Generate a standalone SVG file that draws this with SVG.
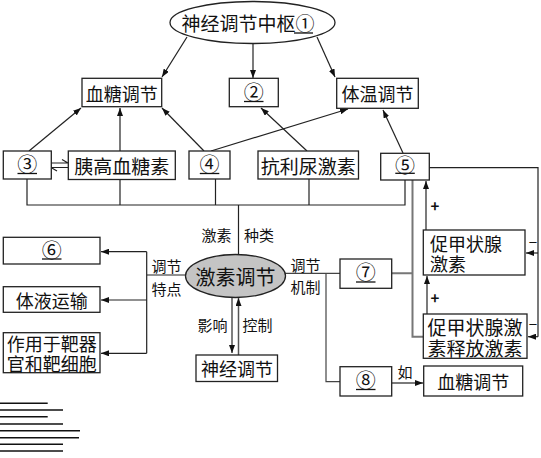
<svg xmlns="http://www.w3.org/2000/svg" width="541" height="458" viewBox="0 0 541 458">
<style>
.bx{fill:#fff;stroke:#222;stroke-width:1.3}
.t{font-family:"Noto Sans CJK SC","Noto Sans",sans-serif;fill:#111;text-anchor:middle;dominant-baseline:central}
.b18{font-size:18px}
.b19{font-size:19px}
.c{font-size:20px}
.l{font-size:15px}
.ln{fill:none;stroke:#222;stroke-width:1.2}
.gl{fill:none;stroke:#777;stroke-width:2}
.ul{stroke:#111;stroke-width:1.3}
.deco{stroke:#111;stroke-width:1.4}
</style>
<defs>
<marker id="ah" markerWidth="8" markerHeight="6" refX="8" refY="3" orient="auto" markerUnits="userSpaceOnUse">
<path d="M0,0 L8,3 L0,6 Z" fill="#111"/>
</marker>
</defs>

<g id="connectors">
<path class="ln" d="M187,37 L162,77" marker-end="url(#ah)"/>
<path class="ln" d="M253,44 L253,78" marker-end="url(#ah)"/>
<path class="ln" d="M317,37 L335,77" marker-end="url(#ah)"/>
<path class="ln" d="M29,151 L81,108" marker-end="url(#ah)"/>
<path class="ln" d="M120,151 L120,108" marker-end="url(#ah)"/>
<path class="ln" d="M204,151 L162,108" marker-end="url(#ah)"/>
<path class="ln" d="M211,151 L348,109" marker-end="url(#ah)"/>
<path class="ln" d="M307,151 L261,108" marker-end="url(#ah)"/>
<path class="ln" d="M403,153 L383,110" marker-end="url(#ah)"/>
<path class="ln" d="M51,163 H68 M68,163 L62,159.5"/>
<path class="ln" d="M68,167.5 H51 M51,167.5 L57,171"/>
<path class="ln" d="M27,179 V205 H405 V180 M120,179 V205 M215.5,179 V205 M309,179 V205 M238.5,205 V255"/>
<path class="ln" d="M186,275 H146.7 M146.7,251.7 V353.3"/>
<path class="ln" d="M146.7,251.7 H101" marker-end="url(#ah)"/>
<path class="ln" d="M146.7,300 H101" marker-end="url(#ah)"/>
<path class="ln" d="M146.7,353.3 H101" marker-end="url(#ah)"/>
<path class="gl" style="stroke-width:1.5;stroke:#555" d="M232,297 V353" marker-end="url(#ah)"/>
<path class="gl" style="stroke-width:1.5;stroke:#555" d="M238.5,356 V298" marker-end="url(#ah)"/>
<path class="ln" style="stroke:#444" d="M285,273.3 H340 M326,273.3 V381.7 H340"/>
<path class="ln" d="M392,383 H423" marker-end="url(#ah)"/>
<path class="gl" d="M392,273.3 H412.5 M412.5,180 V336.7 H423"/>
<path class="ln" d="M426,230 V181" marker-end="url(#ah)"/>
<path class="ln" d="M427,314 V276" marker-end="url(#ah)"/>
<path class="ln" d="M429,167.7 H538 V336.7"/>
<path class="ln" d="M538,336.7 H528" marker-end="url(#ah)"/>
<path class="ln" d="M538,253 H526" marker-end="url(#ah)"/>
</g>

<g id="labels">
<text class="t l" x="216.5" y="234">激素</text>
<text class="t l" x="259" y="234">种类</text>
<text class="t l" x="166.5" y="265">调节</text>
<text class="t l" x="166.5" y="288">特点</text>
<text class="t l" x="305.5" y="264">调节</text>
<text class="t l" x="305.5" y="286">机制</text>
<text class="t l" x="212.5" y="324">影响</text>
<text class="t l" x="257.5" y="324">控制</text>
<text class="t l" x="405" y="371.5">如</text>
<text class="t l" x="435" y="205" font-weight="bold">+</text>
<text class="t l" x="435" y="297" font-weight="bold">+</text>
<text class="t l" x="533" y="241.5">−</text>
<text class="t l" x="533" y="323.5">−</text>
</g>

<g id="n-center1">
<ellipse cx="252.5" cy="22.5" rx="82.5" ry="21" fill="#fff" stroke="#222" stroke-width="1.3"/>
<text class="t b19" x="248" y="22.5">神经调节中枢①</text>
<line class="ul" x1="294" y1="33" x2="313" y2="33"/>
</g>

<g id="n-glucose1">
<rect class="bx" x="82" y="78.3" width="79.7" height="28.4"/>
<text class="t b18" x="121.8" y="92.5">血糖调节</text>
</g>
<g id="n-2">
<rect class="bx" x="229.3" y="78.3" width="49" height="28.4"/>
<text class="t c" x="253.8" y="91.5">②</text>
<line class="ul" x1="244" y1="101.5" x2="263.5" y2="101.5"/>
</g>
<g id="n-temp">
<rect class="bx" x="336.7" y="78.3" width="81.6" height="30"/>
<text class="t b18" x="377.5" y="93.3">体温调节</text>
</g>

<g id="n-3">
<rect class="bx" x="3.3" y="151" width="48" height="28"/>
<text class="t c" x="27.3" y="163.5">③</text>
<line class="ul" x1="17.5" y1="173.5" x2="37" y2="173.5"/>
</g>
<g id="n-glucagon">
<rect class="bx" x="68.3" y="151" width="107" height="28.5"/>
<text class="t b19" x="121.8" y="165.3">胰高血糖素</text>
</g>
<g id="n-4">
<rect class="bx" x="189" y="151" width="41" height="28"/>
<text class="t c" x="209.5" y="163.5">④</text>
<line class="ul" x1="199.8" y1="173.5" x2="219.3" y2="173.5"/>
</g>
<g id="n-adh">
<rect class="bx" x="258" y="151" width="100.5" height="28"/>
<text class="t b19" x="308.3" y="165">抗利尿激素</text>
</g>
<g id="n-5">
<rect class="bx" x="380.7" y="153.3" width="48.6" height="26.7"/>
<text class="t c" x="405" y="164.5">⑤</text>
<line class="ul" x1="395.3" y1="173.3" x2="414.8" y2="173.3"/>
</g>

<g id="n-6">
<rect class="bx" x="3.3" y="237.3" width="96.7" height="26.7"/>
<text class="t c" x="51.7" y="249">⑥</text>
<line class="ul" x1="42" y1="259" x2="61.5" y2="259"/>
</g>
<g id="n-fluid">
<rect class="bx" x="3.3" y="286.7" width="96.7" height="25.6"/>
<text class="t b18" x="51.7" y="299.5">体液运输</text>
</g>
<g id="n-target">
<rect class="bx" x="3.3" y="332.7" width="96.7" height="40"/>
<text class="t b18" x="51.7" y="342.5">作用于靶器<tspan x="51.7" dy="20.5">官和靶细胞</tspan></text>
</g>

<g id="n-hormone">
<ellipse cx="235.5" cy="276" rx="50" ry="21.5" fill="#c4c4c4" stroke="#222" stroke-width="1.3"/>
<text class="t" style="font-size:20px" x="235.5" y="276">激素调节</text>
</g>

<g id="n-neural">
<rect class="bx" x="196" y="355" width="81.5" height="26.5"/>
<text class="t b18" x="237" y="368.3">神经调节</text>
</g>

<g id="n-7">
<rect class="bx" x="340" y="259" width="51.7" height="29.3"/>
<text class="t c" x="365.8" y="271.5">⑦</text>
<line class="ul" x1="356" y1="282" x2="375.5" y2="282"/>
</g>
<g id="n-8">
<rect class="bx" x="340" y="366.7" width="51.7" height="29.3"/>
<text class="t c" x="365.8" y="379">⑧</text>
<line class="ul" x1="356" y1="389.5" x2="375.5" y2="389.5"/>
</g>
<g id="n-glucose2">
<rect class="bx" x="423.7" y="366" width="99" height="30"/>
<text class="t b18" x="473.2" y="381">血糖调节</text>
</g>

<g id="n-tsh">
<rect class="bx" x="423.3" y="230" width="101.7" height="45"/>
<text class="t b18" x="430" y="242.5" style="text-anchor:start">促甲状腺<tspan x="430" dy="20.5">激素</tspan></text>
</g>
<g id="n-trh">
<rect class="bx" x="423.3" y="314" width="103.7" height="44.3"/>
<text class="t b19" x="427.5" y="326" style="text-anchor:start">促甲状腺激<tspan x="427.5" dy="21">素释放激素</tspan></text>
</g>

<g id="deco">
<line class="deco" x1="0" y1="403.3" x2="47.7" y2="403.3"/>
<line class="deco" x1="0" y1="410" x2="63" y2="410"/>
<line class="deco" x1="0" y1="416.7" x2="47.7" y2="416.7"/>
<line class="deco" x1="0" y1="424" x2="63" y2="424"/>
<line class="deco" x1="0" y1="430.7" x2="80" y2="430.7"/>
<line class="deco" x1="0" y1="437.7" x2="79" y2="437.7"/>
<line class="deco" x1="0" y1="444.3" x2="63" y2="444.3"/>
<line class="deco" x1="0" y1="451" x2="63" y2="451"/>
</g>
</svg>
